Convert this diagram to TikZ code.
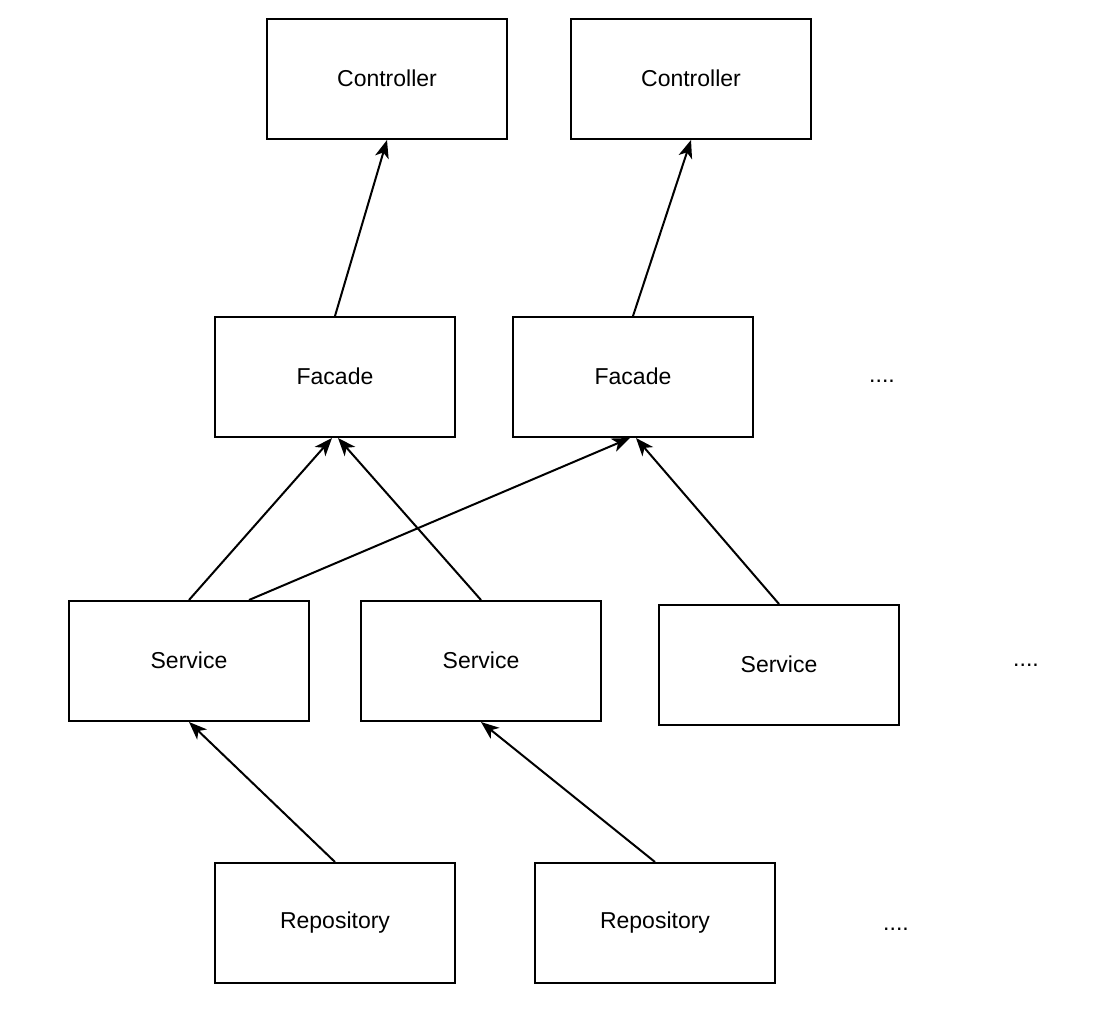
\documentclass[tikz,border=0pt]{standalone}
\usepackage{fontspec}
\setmainfont{Liberation Sans}
\usetikzlibrary{arrows.meta,calc}
\begin{document}
\begin{tikzpicture}[x=1pt,y=-1pt,
  box/.style={draw,line width=2pt,minimum width=240pt,minimum height=120pt,inner sep=0pt,font=\fontsize{23}{26}\selectfont},
  lbl/.style={font=\fontsize{23}{26}\selectfont},
  conn/.style={line width=2pt,-{Stealth[length=18pt,width=14pt,inset=5pt]}}]
\useasboundingbox (0,0) rectangle (1102,1016);
\node[box] (c1) at (387,79) {\raisebox{2pt}{Controller}};
\node[box] (c2) at (691,79) {\raisebox{2pt}{Controller}};
\node[box] (f1) at (335,377) {\raisebox{2pt}{Facade}};
\node[box] (f2) at (633,377) {\raisebox{2pt}{Facade}};
\node[lbl] (d1) at (882,381) {....};
\node[box] (s1) at (189,661) {\raisebox{2pt}{Service}};
\node[box] (s2) at (481,661) {\raisebox{2pt}{Service}};
\node[box] (s3) at (779,665) {\raisebox{2pt}{Service}};
\node[lbl] (d2) at (1026,665) {....};
\node[box] (r1) at (335,923) {\raisebox{2pt}{Repository}};
\node[box] (r2) at (655,923) {\raisebox{2pt}{Repository}};
\node[lbl] (d3) at (896,929) {....};
\draw[conn] (f1.north) -- (c1.south);
\draw[conn] (f2.north) -- (c2.south);
\draw[conn] (s1.north) -- ($(f1.south)+(-3,0)$);
\draw[conn] (s2.north) -- ($(f1.south)+(3,0)$);
\draw[conn] ($(s1.north)+(60,0)$) -- ($(f2.south)+(-3,0)$);
\draw[conn] (s3.north) -- ($(f2.south)+(3,0)$);
\draw[conn] (r1.north) -- (s1.south);
\draw[conn] (r2.north) -- (s2.south);
\end{tikzpicture}
\end{document}
